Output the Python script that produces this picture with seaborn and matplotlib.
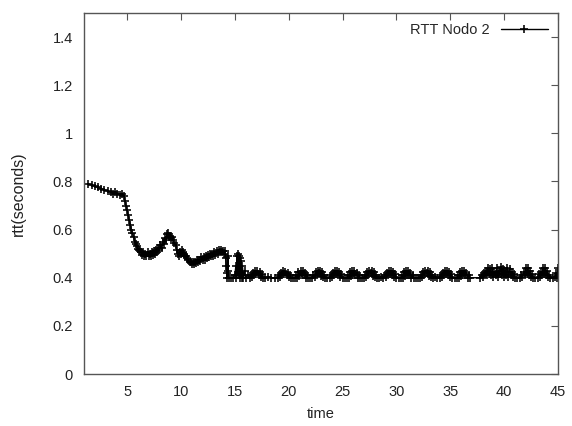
import matplotlib
matplotlib.use("Agg")
import matplotlib.pyplot as plt
import seaborn as sns
import pandas as pd

# ---- data ----
time_early = [1.4, 1.7, 2.0, 2.3, 2.6, 2.9, 3.2, 3.5, 3.7, 3.9, 4.1, 4.3, 4.5, 4.7]
rtt_early = [0.79, 0.785, 0.78, 0.775, 0.77, 0.765, 0.76, 0.755, 0.75, 0.755, 0.75, 0.745, 0.75, 0.74]

time_mid = [4.8, 4.9, 5.0, 5.1, 5.2, 5.3, 5.4, 5.5, 5.6, 5.7, 5.8, 5.9, 6.0, 6.1, 6.2,
            6.3, 6.4, 6.5, 6.6, 6.7, 6.8, 6.9, 7.0, 7.1, 7.2, 7.3, 7.4, 7.5, 7.6, 7.7, 7.8,
            7.9, 8.0, 8.1, 8.2, 8.3, 8.4, 8.5, 8.6, 8.7, 8.8, 8.9, 9.0, 9.1, 9.2, 9.3, 9.4,
            9.5, 9.6, 9.7, 9.8, 9.9, 10.0, 10.1, 10.2, 10.3, 10.4, 10.5, 10.6, 10.7, 10.8,
            10.9, 11.0, 11.1, 11.2, 11.3, 11.4, 11.5, 11.6, 11.7, 11.8, 11.9, 12.0, 12.1,
            12.2, 12.3, 12.4, 12.5, 12.6, 12.7, 12.8, 12.9, 13.0, 13.1, 13.2, 13.3, 13.4,
            13.5, 13.6, 13.7, 13.8, 13.9, 14.0, 14.1]
rtt_mid = [0.72, 0.70, 0.68, 0.66, 0.64, 0.62, 0.60, 0.585, 0.57, 0.55, 0.54, 0.53, 0.52, 0.515, 0.51,
           0.505, 0.495, 0.505, 0.49, 0.50, 0.49, 0.505, 0.49, 0.50, 0.49, 0.505, 0.495, 0.51, 0.50, 0.515, 0.505,
           0.525, 0.515, 0.535, 0.525, 0.55, 0.54, 0.565, 0.555, 0.58, 0.585, 0.57, 0.575, 0.565, 0.57, 0.555, 0.545,
           0.535, 0.515, 0.50, 0.49, 0.505, 0.50, 0.515, 0.505, 0.50, 0.49, 0.49, 0.48, 0.475, 0.465,
           0.465, 0.455, 0.465, 0.455, 0.465, 0.46, 0.475, 0.465, 0.475, 0.47, 0.485, 0.475, 0.485,
           0.475, 0.49, 0.48, 0.495, 0.485, 0.50, 0.49, 0.50, 0.49, 0.505, 0.495, 0.51, 0.50,
           0.515, 0.505, 0.515, 0.505, 0.51, 0.50, 0.51]

time_fall = [14.15, 14.2, 14.25, 14.3, 14.35, 14.4, 14.45, 14.6, 14.8, 15.0, 15.1, 15.15, 15.2,
             15.25, 15.3, 15.35, 15.4, 15.45, 15.5, 15.55, 15.6, 15.65, 15.7, 15.8, 15.9, 16.0, 16.2]
rtt_fall = [0.48, 0.45, 0.42, 0.40, 0.49, 0.43, 0.40, 0.40, 0.40, 0.41, 0.45, 0.40, 0.49,
            0.41, 0.50, 0.42, 0.49, 0.40, 0.48, 0.41, 0.47, 0.40, 0.45, 0.40, 0.43, 0.40, 0.41]

time_late = [
    16.4, 16.5, 16.6, 16.7, 16.8, 16.9, 17.0, 17.1, 17.2, 17.3, 17.4, 17.5, 17.6,
    17.8, 18.1, 18.4, 18.7,
    19.0, 19.1, 19.2, 19.3, 19.4, 19.5, 19.6, 19.7, 19.8, 19.9, 20.0, 20.1, 20.2,
    20.4,
    20.6, 20.7, 20.8, 20.9, 21.0, 21.1, 21.2, 21.3, 21.4, 21.5, 21.6, 21.7, 21.8,
    22.0,
    22.2, 22.3, 22.4, 22.5, 22.6, 22.7, 22.8, 22.9, 23.0, 23.1, 23.2, 23.3, 23.4,
    23.6,
    23.8, 23.9, 24.0, 24.1, 24.2, 24.3, 24.4, 24.5, 24.6, 24.7, 24.8, 24.9, 25.0,
    25.2,
    25.4, 25.5, 25.6, 25.7, 25.8, 25.9, 26.0, 26.1, 26.2, 26.3, 26.4, 26.5, 26.6,
    26.8,
    27.0, 27.1, 27.2, 27.3, 27.4, 27.5, 27.6, 27.7, 27.8, 27.9, 28.0, 28.1, 28.2,
    28.4, 28.6,
    28.8, 28.9, 29.0, 29.1, 29.2, 29.3, 29.4, 29.5, 29.6, 29.7, 29.8, 29.9, 30.0,
    30.2,
    30.4, 30.5, 30.6, 30.7, 30.8, 30.9, 31.0, 31.1, 31.2, 31.3, 31.4, 31.5, 31.6,
    31.8, 32.0,
    32.2, 32.3, 32.4, 32.5, 32.6, 32.7, 32.8, 32.9, 33.0, 33.1, 33.2, 33.3, 33.4,
    33.6, 33.8,
    34.0, 34.1, 34.2, 34.3, 34.4, 34.5, 34.6, 34.7, 34.8, 34.9, 35.0, 35.1, 35.2,
    35.4,
    35.6, 35.7, 35.8, 35.9, 36.0, 36.1, 36.2, 36.3, 36.4, 36.5, 36.6, 36.7, 36.8,
    37.8, 37.9, 38.0, 38.1, 38.2, 38.3, 38.4, 38.5, 38.6, 38.7, 38.8, 38.9, 39.0,
    39.1, 39.2, 39.3, 39.4, 39.5, 39.6, 39.7, 39.8, 39.9, 40.0, 40.1, 40.2, 40.3,
    40.4, 40.5, 40.6, 40.7, 40.8, 40.9, 41.0,
    41.2,
    41.5, 41.6, 41.7, 41.8, 41.9, 42.0, 42.1, 42.2, 42.3, 42.4, 42.5, 42.6, 42.7,
    42.9,
    43.1, 43.2, 43.3, 43.4, 43.5, 43.6, 43.7, 43.8, 43.9, 44.0, 44.1, 44.2, 44.3,
    44.5, 44.7, 44.8, 44.9, 45.0]
rtt_late = [
    0.40, 0.41, 0.405, 0.42, 0.41, 0.43, 0.415, 0.43, 0.41, 0.425, 0.405, 0.415, 0.40,
    0.40, 0.405, 0.40, 0.40,
    0.40, 0.41, 0.405, 0.42, 0.41, 0.428, 0.415, 0.425, 0.41, 0.42, 0.405, 0.41, 0.40,
    0.40,
    0.40, 0.412, 0.40, 0.422, 0.408, 0.428, 0.412, 0.43, 0.41, 0.42, 0.40, 0.41, 0.40,
    0.40,
    0.40, 0.41, 0.402, 0.425, 0.41, 0.43, 0.418, 0.428, 0.408, 0.422, 0.405, 0.412, 0.40,
    0.40,
    0.40, 0.41, 0.405, 0.42, 0.41, 0.43, 0.415, 0.43, 0.41, 0.425, 0.405, 0.415, 0.40,
    0.40,
    0.40, 0.412, 0.40, 0.422, 0.408, 0.428, 0.412, 0.43, 0.41, 0.42, 0.40, 0.41, 0.40,
    0.40,
    0.40, 0.41, 0.402, 0.425, 0.41, 0.43, 0.418, 0.428, 0.408, 0.422, 0.405, 0.412, 0.40,
    0.40, 0.405,
    0.40, 0.41, 0.405, 0.42, 0.41, 0.43, 0.415, 0.43, 0.41, 0.425, 0.405, 0.415, 0.40,
    0.40,
    0.40, 0.412, 0.40, 0.422, 0.408, 0.428, 0.412, 0.43, 0.41, 0.42, 0.40, 0.41, 0.40,
    0.40, 0.40,
    0.40, 0.41, 0.402, 0.425, 0.41, 0.43, 0.418, 0.428, 0.408, 0.422, 0.405, 0.412, 0.40,
    0.405, 0.40,
    0.40, 0.41, 0.405, 0.42, 0.41, 0.43, 0.415, 0.43, 0.41, 0.425, 0.405, 0.415, 0.40,
    0.40,
    0.40, 0.412, 0.40, 0.422, 0.408, 0.428, 0.412, 0.43, 0.41, 0.42, 0.40, 0.41, 0.40,
    0.40, 0.412, 0.405, 0.42, 0.41, 0.43, 0.412, 0.44, 0.415, 0.435, 0.41, 0.44, 0.405,
    0.425, 0.41, 0.44, 0.405, 0.43, 0.415, 0.445, 0.41, 0.435, 0.405, 0.43, 0.41, 0.44,
    0.405, 0.435, 0.41, 0.425, 0.405, 0.415, 0.40,
    0.40,
    0.40, 0.412, 0.405, 0.425, 0.41, 0.44, 0.415, 0.44, 0.41, 0.43, 0.405, 0.415, 0.40,
    0.40,
    0.40, 0.415, 0.405, 0.425, 0.41, 0.44, 0.415, 0.44, 0.41, 0.43, 0.405, 0.412, 0.40,
    0.40, 0.405, 0.42, 0.40, 0.44]

x_ticks = [5, 10, 15, 20, 25, 30, 35, 40, 45]
y_ticks = [0, 0.2, 0.4, 0.6, 0.8, 1.0, 1.2, 1.4]
y_tick_labels = ["0", "0.2", "0.4", "0.6", "0.8", "1", "1.2", "1.4"]
series_label = "RTT Nodo 2"

df = pd.DataFrame({
    "time": time_early + time_mid + time_fall + time_late,
    "rtt": rtt_early + rtt_mid + rtt_fall + rtt_late,
})

sns.set_style("white")
plt.rcParams["font.family"] = ["Liberation Sans", "DejaVu Sans"]

fig = plt.figure(figsize=(5.72, 4.26), dpi=100)
ax = fig.add_axes([84 / 572, 1 - 374 / 426, (558 - 84) / 572, (374 - 13) / 426])

sns.lineplot(data=df, x="time", y="rtt", ax=ax, sort=False, estimator=None,
             color="black", linewidth=1.0, marker="+", markersize=5.5,
             markeredgewidth=1.15, markeredgecolor="black", label=series_label)

ax.set_xlim(1, 45)
ax.set_ylim(0, 1.5)
ax.set_xticks(x_ticks)
ax.set_yticks(y_ticks)
ax.set_yticklabels(y_tick_labels)
ax.tick_params(direction="in", length=5, width=0.8, color="#555555",
               top=True, right=True, labelsize=10.5, labelcolor="#222222", pad=8)
for s in ax.spines.values():
    s.set_color("#555555")
    s.set_linewidth(1.0)
ax.set_xlabel("time", fontsize=10.5, color="#222222", labelpad=6)
ax.set_ylabel("rtt(seconds)", fontsize=11.5, color="#222222", labelpad=19)

leg = ax.legend(loc="upper right", frameon=False, markerfirst=False, fontsize=10.5,
                handlelength=3.2, borderaxespad=0.3)

fig.savefig("out.png", dpi=100)
